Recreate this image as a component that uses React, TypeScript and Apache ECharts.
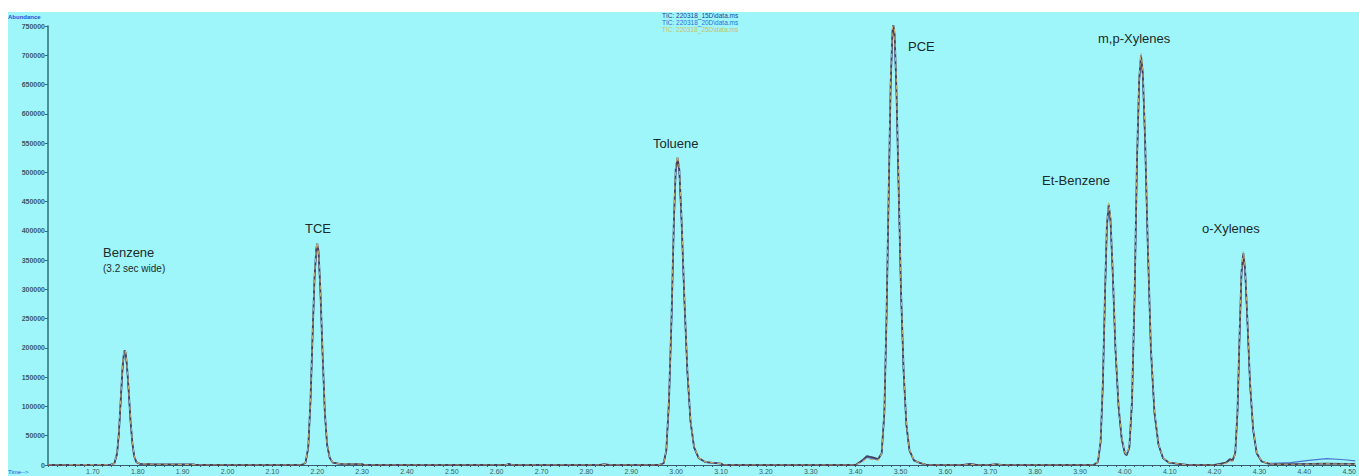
import React, { useEffect, useRef } from "react";
import * as echarts from "echarts";

// Retention time (min)
const times: number[] = [
  1.6, 1.74, 1.748, 1.754, 1.758, 1.762, 1.766, 1.769, 1.771, 1.773, 1.776, 1.78, 1.784, 1.788, 1.792, 1.797, 1.805, 1.83, 1.925, 1.93,
  2.165, 2.174, 2.18, 2.185, 2.19, 2.194, 2.198, 2.2, 2.203, 2.207, 2.212, 2.217, 2.222, 2.228, 2.235, 2.25, 2.3, 2.305,
  2.62, 2.627, 2.635, 2.83, 2.84, 2.85,
  2.96, 2.972, 2.978, 2.984, 2.99, 2.995, 2.999, 3.003, 3.007, 3.012, 3.018, 3.025, 3.032, 3.04, 3.05, 3.065, 3.1, 3.105,
  3.4, 3.415, 3.425, 3.438, 3.45, 3.458, 3.464, 3.469, 3.474, 3.478, 3.482, 3.484, 3.487, 3.491, 3.496, 3.501, 3.507, 3.513, 3.52, 3.53, 3.545, 3.56,
  3.64, 3.655, 3.67, 3.7, 3.712, 3.725,
  3.93, 3.94, 3.946, 3.951, 3.956, 3.96, 3.964, 3.968, 3.973, 3.979, 3.986, 3.993, 4.0, 4.004, 4.01, 4.016, 4.022, 4.027, 4.032, 4.036, 4.04, 4.045, 4.051, 4.058, 4.066, 4.075, 4.085, 4.098, 4.12, 4.14,
  4.2, 4.225, 4.234, 4.24, 4.246, 4.251, 4.256, 4.26, 4.264, 4.268, 4.273, 4.279, 4.286, 4.294, 4.305, 4.32, 4.33,
  4.37, 4.41, 4.45, 4.49, 4.5133,
];

const tic15: number[] = [
  0, 500, 3000, 20000, 55000, 110000, 165000, 190000, 196000, 192000, 170000, 125000, 75000, 38000, 15000, 5000, 2000, 1500, 1200, 0,
  0, 4000, 30000, 110000, 230000, 320000, 370000, 378000, 365000, 300000, 190000, 90000, 35000, 12000, 4000, 2000, 1500, 0,
  0, 1800, 0, 0, 1500, 0,
  0, 3000, 25000, 110000, 260000, 420000, 505000, 525000, 505000, 420000, 290000, 160000, 75000, 30000, 12000, 5000, 2500, 0,
  0, 8000, 15000, 13000, 10000, 20000, 90000, 260000, 480000, 650000, 740000, 752000, 735000, 640000, 470000, 300000, 160000, 70000, 25000, 8000, 3000, 0,
  0, 2000, 0, 0, 1500, 0,
  0, 5000, 40000, 140000, 300000, 410000, 445000, 420000, 330000, 200000, 100000, 45000, 20000, 17000, 30000, 110000, 300000, 520000, 660000, 700000, 670000, 560000, 380000, 200000, 90000, 35000, 12000, 4000, 2000, 0,
  0, 4000, 10000, 8000, 20000, 90000, 230000, 330000, 362000, 335000, 250000, 140000, 60000, 20000, 6000, 2500, 1500,
  1500, 2000, 2500, 2000, 1800,
];

const tic20: number[] = [
  0, 500, 2500, 18000, 52000, 106000, 160000, 186000, 193000, 190000, 168000, 122000, 73000, 37000, 15000, 5000, 1800, 1200, 900, 0,
  0, 3500, 28000, 105000, 224000, 314000, 366000, 375000, 362000, 296000, 186000, 88000, 34000, 11500, 4000, 1800, 1300, 0,
  0, 1200, 0, 0, 1000, 0,
  0, 2800, 23000, 105000, 252000, 412000, 498000, 520000, 500000, 414000, 285000, 156000, 73000, 29000, 11500, 4800, 2200, 0,
  0, 7000, 13000, 11000, 9000, 18000, 85000, 250000, 470000, 640000, 732000, 745000, 728000, 632000, 462000, 294000, 156000, 68000, 24000, 7500, 2800, 0,
  0, 1500, 0, 0, 1200, 0,
  0, 4500, 37000, 134000, 292000, 402000, 440000, 414000, 324000, 195000, 97000, 43000, 19000, 16000, 28000, 105000, 292000, 510000, 652000, 694000, 664000, 552000, 372000, 195000, 87000, 34000, 11500, 3800, 1800, 0,
  0, 3000, 8000, 7000, 18000, 86000, 224000, 324000, 357000, 330000, 245000, 136000, 58000, 19000, 6000, 3000, 3000,
  4000, 8000, 11000, 9000, 7000,
];

const tic25: number[] = [
  0, 400, 3000, 21000, 57000, 112000, 167000, 192000, 197000, 193000, 172000, 127000, 77000, 39000, 16000, 5500, 2000, 1400, 1000, 0,
  0, 4200, 31000, 112000, 233000, 323000, 373000, 380000, 367000, 303000, 193000, 92000, 36000, 12500, 4200, 2000, 1500, 0,
  0, 1500, 0, 0, 1200, 0,
  0, 3100, 26000, 113000, 265000, 425000, 510000, 528000, 508000, 424000, 294000, 163000, 77000, 31000, 12500, 5200, 2400, 0,
  0, 6000, 11000, 9000, 8000, 19000, 92000, 265000, 488000, 658000, 746000, 756000, 740000, 646000, 476000, 305000, 163000, 72000, 26000, 8200, 3000, 0,
  0, 1200, 0, 0, 1800, 0,
  0, 5200, 42000, 144000, 306000, 415000, 448000, 424000, 335000, 204000, 103000, 47000, 21000, 18000, 32000, 114000, 306000, 528000, 666000, 704000, 675000, 566000, 386000, 204000, 93000, 36000, 12500, 4200, 2000, 0,
  0, 2500, 7000, 6000, 19000, 93000, 235000, 334000, 365000, 339000, 254000, 143000, 62000, 21000, 6500, 2500, 1500,
  1200, 1500, 2000, 1500, 1400,
];

const seriesNames = ["TIC: 220318_15D\\data.ms", "TIC: 220318_20D\\data.ms", "TIC: 220318_25D\\data.ms"];

const peakLabels = [
  { text: "Benzene", x: 95, y: 240, size: 13 },
  { text: "(3.2 sec wide)", x: 95, y: 256, size: 10 },
  { text: "TCE", x: 297, y: 216, size: 13 },
  { text: "Toluene", x: 645, y: 131, size: 13 },
  { text: "PCE", x: 900, y: 34, size: 13 },
  { text: "Et-Benzene", x: 1034, y: 168, size: 13 },
  { text: "m,p-Xylenes", x: 1090, y: 26, size: 13 },
  { text: "o-Xylenes", x: 1194, y: 216, size: 13 },
];

const X_MIN = 1.6;
const X_MAX = 4.5133;

export default function App() {
  const ref = useRef<HTMLDivElement>(null);
  useEffect(() => {
    if (!ref.current) return;
    const chart = echarts.init(ref.current, null, { renderer: "svg" });
    const mk = (vals: number[]) => times.map((t, i) => [t, vals[i]]);
    const font = "'Liberation Sans Narrow', 'Liberation Sans', Arial, sans-serif";
    chart.setOption({
      animation: false,
      backgroundColor: "#9ff6fa",
      grid: { left: 40, right: 0, top: 14, bottom: 11 },
      xAxis: {
        type: "value",
        min: X_MIN,
        max: X_MAX,
        interval: 0.1,
        axisLine: { show: true, lineStyle: { color: "#3a5a70", width: 1 } },
        axisTick: { show: true, length: 2, lineStyle: { color: "#3a5a70" } },
        minorTick: { show: true, splitNumber: 5, length: 2, lineStyle: { color: "#3a5a70" } },
        splitLine: { show: false },
        axisLabel: {
          fontSize: 7,
          color: "#3a5a5e",
          margin: 3,
          showMinLabel: false,
          showMaxLabel: false,
          formatter: (v: number) => v.toFixed(2),
        },
      },
      yAxis: {
        type: "value",
        min: 0,
        max: 750000,
        interval: 50000,
        axisLine: { show: true, lineStyle: { color: "#2e6e72", width: 1.5 } },
        axisTick: { show: true, length: 3, lineStyle: { color: "#2e6e72" } },
        splitLine: { show: false },
        axisLabel: {
          fontSize: 7,
          color: "#3a5a5e",
          margin: 3,
          fontWeight: "bold",
          formatter: (v: number) => String(v),
        },
      },
      series: [
        {
          name: seriesNames[1],
          type: "line",
          data: mk(tic20),
          showSymbol: false,
          lineStyle: { color: "#4a74d4", width: 1.2 },
          itemStyle: { color: "#3f70d8" },
          z: 2,
        },
        {
          name: seriesNames[0],
          type: "line",
          data: mk(tic15),
          showSymbol: false,
          lineStyle: { color: "#45405e", width: 1.8 },
          itemStyle: { color: "#1c3a9a" },
          z: 3,
        },
        {
          name: seriesNames[2],
          type: "line",
          data: mk(tic25),
          showSymbol: false,
          lineStyle: { color: "#c4ad72", width: 1.1, type: [4, 3] },
          itemStyle: { color: "#c8c060" },
          z: 4,
        },
      ],
      graphic: [
        { type: "text", left: 0, top: 2, style: { text: "Abundance", fill: "#2050e0", font: "bold 6px Arial" } },
        { type: "text", left: 0, top: 457, style: { text: "Time-->", fill: "#2050e0", font: "6px Arial" } },
        { type: "text", x: 654, y: 3.5, style: { text: seriesNames[0], fill: "#1c3a9a", font: "6.5px Arial", verticalAlign: "middle" } },
        { type: "text", x: 654, y: 10.5, style: { text: seriesNames[1], fill: "#2f6ae0", font: "6.5px Arial", verticalAlign: "middle" } },
        { type: "text", x: 654, y: 17.5, style: { text: seriesNames[2], fill: "#c8c060", font: "6.5px Arial", verticalAlign: "middle" } },
        ...peakLabels.map((p) => ({
          type: "text",
          x: p.x,
          y: p.y,
          z: 10,
          style: {
            text: p.text,
            fill: "#1b2b2b",
            font: `${p.size}px ${font}`,
            verticalAlign: "middle",
          },
        })),
      ],
    });
    return () => chart.dispose();
  }, []);
  return (
    <div
      ref={ref}
      style={{ position: "absolute", left: 8, top: 12, width: 1351, height: 464 }}
    />
  );
}
